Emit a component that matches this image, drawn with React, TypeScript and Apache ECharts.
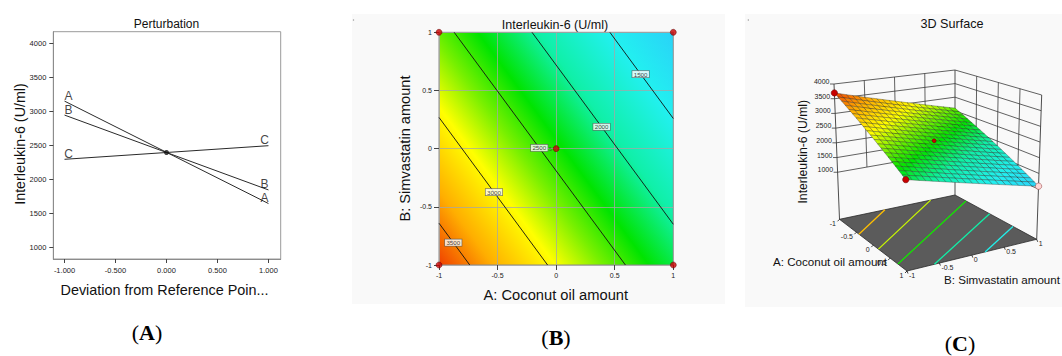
import React, { useEffect, useRef } from "react";
import * as echarts from "echarts";

// ---------- Panel A: perturbation ----------
const DEVIATION = [-1, 1];
const PERT_A = [3150, 1645];
const PERT_B = [2945, 1845];
const PERT_C = [2295, 2495];
const REFERENCE_VALUE = 2395;
const PERT_X_TICKS = [-1, -0.5, 0, 0.5, 1];
const PERT_Y_TICKS = [1000, 1500, 2000, 2500, 3000, 3500, 4000];

// ---------- Panel B: contour plot ----------
const CODED_TICKS = [-1, -0.5, 0, 0.5, 1];
const CONTOUR_LEVELS = [1500, 2000, 2500, 3000, 3500];
const CONTOUR_LABEL_A = [0.721, 0.388, -0.144, -0.531, -0.878];
const DESIGN_POINTS = [[-1, -1], [1, -1], [-1, 1], [1, 1], [0, 0]];
const CENTER_REPLICATES = "5";

// ---------- Panel C: 3D surface ----------
const SURFACE_Z_TICKS = [1000, 1500, 2000, 2500, 3000, 3500, 4000];
const FLOOR_LEVELS = [1530, 1960, 2395, 2830, 3265];
const SURFACE_POINTS = [[-1, -1], [1, -1], [0, 0], [1, 1]];
const SURFACE_POINT_ABOVE = [true, true, true, false];
const MESH_STEPS = 20;

// colour map (response value -> colour)
const COLOR_STOPS_V = [1093, 1500, 1960, 2350, 2650, 2950, 3350, 3697];
const COLOR_STOPS_C = ["#2ad2f8", "#22f0f0", "#10f0a8", "#00e400", "#78f000", "#ffff00", "#ffae00", "#f04000"];

// linear model
const COEF_A = (PERT_A[1] - PERT_A[0]) / 2;
const COEF_B = (PERT_B[1] - PERT_B[0]) / 2;
const response = (a: number, b: number) => REFERENCE_VALUE + COEF_A * a + COEF_B * b;

// 3D box layout (screen positions of the box corners): order (A,B) = (-1,-1),(1,-1),(1,1),(-1,1)
const BOX_FLOOR = [[839.5, 219.3], [907, 271], [1036.7, 239.3], [955, 195]];
const BOX_TOP = [[834, 84], [905, 120.5], [1041.7, 95], [955, 70]];
const Z_FLOOR = -600;
const Z_TOP = 4000;

const FONT = '"Liberation Sans", Arial, Helvetica, sans-serif';
const SERIF = '"Liberation Serif", "Times New Roman", serif';

function project(a: number, b: number, z: number): number[] {
  const u = (a + 1) / 2, v = (b + 1) / 2, w = (z - Z_FLOOR) / (Z_TOP - Z_FLOOR);
  const bil = (q: number[][], k: number) =>
    q[0][k] * (1 - u) * (1 - v) + q[1][k] * u * (1 - v) + q[2][k] * u * v + q[3][k] * (1 - u) * v;
  const f = [bil(BOX_FLOOR, 0), bil(BOX_FLOOR, 1)];
  const t = [bil(BOX_TOP, 0), bil(BOX_TOP, 1)];
  return [f[0] * (1 - w) + t[0] * w, f[1] * (1 - w) + t[1] * w];
}

function hexToRgb(h: string) {
  const n = parseInt(h.slice(1), 16);
  return [(n >> 16) & 255, (n >> 8) & 255, n & 255];
}
function colorAt(v: number) {
  const vs = COLOR_STOPS_V;
  const cs = COLOR_STOPS_C.map(hexToRgb);
  if (v <= vs[0]) return `rgb(${cs[0].join(",")})`;
  if (v >= vs[vs.length - 1]) return `rgb(${cs[cs.length - 1].join(",")})`;
  for (let i = 0; i < vs.length - 1; i++) {
    if (v >= vs[i] && v <= vs[i + 1]) {
      const t = (v - vs[i]) / (vs[i + 1] - vs[i]);
      const c = cs[i].map((x, k) => Math.round(x + (cs[i + 1][k] - x) * t));
      return `rgb(${c.join(",")})`;
    }
  }
  return "#000";
}

function contourSegment(level: number): number[][] {
  const pts: number[][] = [];
  for (const a of [-1, 1]) {
    const b = (level - REFERENCE_VALUE - COEF_A * a) / COEF_B;
    if (b >= -1 && b <= 1) pts.push([a, b]);
  }
  for (const b of [-1, 1]) {
    const a = (level - REFERENCE_VALUE - COEF_B * b) / COEF_A;
    if (a >= -1 && a <= 1) pts.push([a, b]);
  }
  return pts.slice(0, 2);
}

const HIDDEN = "rgba(0,0,0,0)";

function buildOption() {
  const factorSeries = [
    { name: "A", vals: PERT_A },
    { name: "B", vals: PERT_B },
    { name: "C", vals: PERT_C },
  ];

  const factorLabels: any[] = [];
  factorSeries.forEach((f) => {
    DEVIATION.forEach((x, i) => {
      factorLabels.push({
        value: [x, f.vals[i]],
        label: {
          show: true,
          formatter: f.name,
          position: "top",
          distance: 0,
          offset: [i === 0 ? 4 : -4, 1],
          fontSize: 12,
          color: "#111",
          fontFamily: FONT,
        },
      });
    });
  });

  const cells: number[][] = [];
  for (let i = 0; i < MESH_STEPS; i++) for (let j = 0; j < MESH_STEPS; j++) cells.push([i, j]);

  const lineStyleC = { stroke: "#3a3a3a", lineWidth: 0.8 };

  const series: any[] = [
    // ---------- Panel A ----------
    ...factorSeries.map((f) => ({
      type: "line",
      name: f.name,
      xAxisIndex: 0,
      yAxisIndex: 0,
      data: DEVIATION.map((x, i) => [x, f.vals[i]]),
      symbol: "none",
      lineStyle: { color: "#2a2a2a", width: 1 },
      silent: true,
      z: 3,
    })),
    {
      type: "scatter",
      xAxisIndex: 0,
      yAxisIndex: 0,
      data: factorLabels,
      symbolSize: 1,
      itemStyle: { color: HIDDEN },
      silent: true,
      clip: false,
      z: 4,
    },
    {
      type: "scatter",
      xAxisIndex: 0,
      yAxisIndex: 0,
      data: [[0, REFERENCE_VALUE]],
      symbolSize: 5,
      itemStyle: { color: "#111" },
      silent: true,
      z: 5,
    },
    // ---------- Panel B ----------
    {
      type: "custom",
      xAxisIndex: 1,
      yAxisIndex: 1,
      data: [[0, 0]],
      silent: true,
      z: 1,
      renderItem: (params: any, api: any) => {
        const c = api.coord([0, 0]);
        const pxPerA = (api.coord([1, 0])[0] - api.coord([-1, 0])[0]) / 2;
        const pyPerB = (api.coord([0, 1])[1] - api.coord([0, -1])[1]) / 2;
        const gx = COEF_A / pxPerA;
        const gy = COEF_B / pyPerB;
        const g2 = gx * gx + gy * gy;
        const at = (v: number) => [c[0] + ((v - REFERENCE_VALUE) / g2) * gx, c[1] + ((v - REFERENCE_VALUE) / g2) * gy];
        const vMin = COLOR_STOPS_V[0];
        const vMax = COLOR_STOPS_V[COLOR_STOPS_V.length - 1];
        const p0 = at(vMin);
        const p1 = at(vMax);
        const stops = COLOR_STOPS_V.map((v, i) => ({ offset: (v - vMin) / (vMax - vMin), color: COLOR_STOPS_C[i] }));
        const pts = [[-1, -1], [1, -1], [1, 1], [-1, 1]].map((p) => api.coord(p));
        return {
          type: "polygon",
          shape: { points: pts },
          style: {
            fill: new echarts.graphic.LinearGradient(p0[0], p0[1], p1[0], p1[1], stops, true),
            stroke: "#8a8a8a",
            lineWidth: 1,
          },
        };
      },
    },
    ...CONTOUR_LEVELS.map((level) => ({
      type: "line",
      xAxisIndex: 1,
      yAxisIndex: 1,
      data: contourSegment(level),
      symbol: "none",
      lineStyle: { color: "#111", width: 0.9 },
      silent: true,
      z: 4,
    })),
    {
      type: "scatter",
      xAxisIndex: 1,
      yAxisIndex: 1,
      data: CONTOUR_LEVELS.map((level, i) => {
        const a = CONTOUR_LABEL_A[i];
        return [a, (level - REFERENCE_VALUE - COEF_A * a) / COEF_B, level];
      }),
      symbolSize: 1,
      itemStyle: { color: HIDDEN },
      label: {
        show: true,
        position: "inside",
        formatter: (p: any) => String(p.value[2]),
        fontSize: 6.2,
        fontFamily: FONT,
        color: "#111",
        backgroundColor: "#fff",
        borderColor: "#555",
        borderWidth: 0.6,
        padding: [0.5, 1.5, 0, 1.5],
      },
      silent: true,
      clip: false,
      z: 5,
    },
    {
      type: "scatter",
      xAxisIndex: 1,
      yAxisIndex: 1,
      data: DESIGN_POINTS.map((p) => ({
        value: p,
        label:
          p[0] === 0 && p[1] === 0
            ? { show: true, formatter: CENTER_REPLICATES, position: "left", distance: 1, fontSize: 5, color: "#333", fontFamily: FONT }
            : { show: false },
      })),
      symbolSize: 6,
      itemStyle: { color: "#c80000", borderColor: "#5a0000", borderWidth: 0.6 },
      silent: true,
      clip: false,
      z: 6,
    },
    // ---------- Panel C ----------
    {
      type: "custom",
      xAxisIndex: 2,
      yAxisIndex: 2,
      data: [[0, 0]],
      silent: true,
      z: 1,
      renderItem: (params: any, api: any) => {
        const P = (a: number, b: number, z: number) => api.coord(project(a, b, z));
        const ch: any[] = [];
        const line = (p: number[], q: number[], w = 0.8) =>
          ch.push({ type: "line", shape: { x1: p[0], y1: p[1], x2: q[0], y2: q[1] }, style: { ...lineStyleC, lineWidth: w } });
        const zLo = SURFACE_Z_TICKS[0];
        const zHi = SURFACE_Z_TICKS[SURFACE_Z_TICKS.length - 1];
        SURFACE_Z_TICKS.forEach((z) => {
          line(P(-1, -1, z), P(-1, 1, z));
          line(P(-1, 1, z), P(1, 1, z));
        });
        [-0.5, 0, 0.5].forEach((t) => {
          line(P(-1, t, zLo), P(-1, t, zHi));
          line(P(t, 1, zLo), P(t, 1, zHi));
        });
        line(P(-1, -1, Z_FLOOR), P(-1, -1, zHi), 0.9);
        line(P(-1, 1, Z_FLOOR), P(-1, 1, zHi), 0.9);
        line(P(1, 1, Z_FLOOR), P(1, 1, zHi), 0.9);
        SURFACE_Z_TICKS.forEach((z) => {
          const p = P(-1, -1, z);
          line([p[0] - 4, p[1]], p, 0.8);
          ch.push({
            type: "text",
            x: p[0] - 4.5,
            y: p[1] - 2.5,
            style: { text: String(z), fontSize: 7, fontFamily: FONT, fill: "#222", align: "right", verticalAlign: "middle" },
          });
        });
        return { type: "group", children: ch };
      },
    },
    {
      type: "custom",
      xAxisIndex: 2,
      yAxisIndex: 2,
      data: [[0, 0]],
      silent: true,
      z: 2,
      renderItem: (params: any, api: any) => {
        const P = (a: number, b: number) => api.coord(project(a, b, Z_FLOOR));
        const ch: any[] = [];
        ch.push({
          type: "polygon",
          shape: { points: [P(-1, -1), P(1, -1), P(1, 1), P(-1, 1)] },
          style: { fill: "#5b5b5b", stroke: "#2a2a2a", lineWidth: 0.8 },
        });
        FLOOR_LEVELS.forEach((level) => {
          const seg = contourSegment(level);
          if (seg.length < 2) return;
          const p = P(seg[0][0], seg[0][1]);
          const q = P(seg[1][0], seg[1][1]);
          ch.push({
            type: "line",
            shape: { x1: p[0], y1: p[1], x2: q[0], y2: q[1] },
            style: { stroke: colorAt(level), lineWidth: 1.3 },
          });
        });
        CODED_TICKS.forEach((t) => {
          const pa = P(t, -1);
          ch.push({ type: "line", shape: { x1: pa[0], y1: pa[1], x2: pa[0] - 2, y2: pa[1] + 2 }, style: { stroke: "#111", lineWidth: 0.8 } });
          ch.push({
            type: "text",
            x: pa[0] - 3.5,
            y: pa[1] + 4.5,
            style: { text: String(t), fontSize: 7, fontFamily: FONT, fill: "#222", align: "right", verticalAlign: "middle" },
          });
          const pb = P(1, t);
          ch.push({ type: "line", shape: { x1: pb[0], y1: pb[1], x2: pb[0] + 1, y2: pb[1] + 2.5 }, style: { stroke: "#111", lineWidth: 0.8 } });
          ch.push({
            type: "text",
            x: pb[0] + 2,
            y: pb[1] + 4,
            style: { text: String(t), fontSize: 7, fontFamily: FONT, fill: "#222", align: "left", verticalAlign: "middle" },
          });
        });
        return { type: "group", children: ch };
      },
    },
    {
      type: "custom",
      xAxisIndex: 2,
      yAxisIndex: 2,
      data: cells,
      silent: true,
      z: 3,
      renderItem: (params: any, api: any) => {
        const i = api.value(0);
        const j = api.value(1);
        const a0 = -1 + (2 * i) / MESH_STEPS;
        const a1 = -1 + (2 * (i + 1)) / MESH_STEPS;
        const b0 = -1 + (2 * j) / MESH_STEPS;
        const b1 = -1 + (2 * (j + 1)) / MESH_STEPS;
        const pts = [[a0, b0], [a1, b0], [a1, b1], [a0, b1]].map(([a, b]) => api.coord(project(a, b, response(a, b))));
        return {
          type: "polygon",
          shape: { points: pts },
          style: { fill: colorAt(response((a0 + a1) / 2, (b0 + b1) / 2)), stroke: "rgba(30,30,30,0.7)", lineWidth: 0.45 },
        };
      },
    },
    {
      type: "custom",
      xAxisIndex: 2,
      yAxisIndex: 2,
      data: SURFACE_POINTS.map((p, i) => [p[0], p[1], SURFACE_POINT_ABOVE[i] ? 1 : 0]),
      silent: true,
      z: 4,
      renderItem: (params: any, api: any) => {
        const a = api.value(0);
        const b = api.value(1);
        const above = api.value(2) === 1;
        const c = api.coord(project(a, b, response(a, b)));
        const isCenter = a === 0 && b === 0;
        return {
          type: "circle",
          shape: { cx: c[0], cy: c[1], r: isCenter ? 2 : 3.2 },
          style: above
            ? { fill: "#c80000", stroke: "#5a0000", lineWidth: 0.5 }
            : { fill: "#ffd6d6", stroke: "#a05050", lineWidth: 0.6 },
        };
      },
    },
  ];

  const text = (x: number, y: number, t: string, size: number, extra: any = {}) => ({
    type: "text",
    x,
    y,
    silent: true,
    ...extra,
    style: { text: t, fontSize: size, fontFamily: FONT, fill: "#111", align: "center", verticalAlign: "middle" },
  });

  const caption = (x: number, y: number, letter: string) => ({
    type: "text",
    x,
    y,
    silent: true,
    style: {
      text: "{p|(}{b|" + letter + "}{p|)}",
      align: "center",
      verticalAlign: "middle",
      rich: {
        p: { fontSize: 22, fontFamily: SERIF, fill: "#000" },
        b: { fontSize: 22, fontFamily: SERIF, fontWeight: "bold", fill: "#000" },
      },
    },
  });

  const graphic: any[] = [
    { type: "rect", z: -10, silent: true, shape: { x: 352, y: 14, width: 373, height: 290 }, style: { fill: "#f9f9f9" } },
    { type: "rect", z: -10, silent: true, shape: { x: 745, y: 14, width: 317, height: 293 }, style: { fill: "#f9f9f9" } },
    { type: "circle", silent: true, shape: { cx: 353.5, cy: 20, r: 0.7 }, style: { fill: "#999" } },
    { type: "circle", silent: true, shape: { cx: 748.3, cy: 20, r: 0.7 }, style: { fill: "#999" } },
    // panel A
    text(166.5, 24, "Perturbation", 12),
    text(20, 144, "Interleukin-6 (U/ml)", 14.3, { rotation: Math.PI / 2 }),
    text(164.5, 290, "Deviation from Reference Poin...", 14.4),
    // panel B
    text(555, 25, "Interleukin-6 (U/ml)", 12.5),
    text(405, 148.5, "B: Simvastatin amount", 14.6, { rotation: Math.PI / 2 }),
    text(555.8, 295, "A: Coconut oil amount", 14.7),
    // panel C
    text(952, 24, "3D Surface", 12.6),
    text(803.3, 151.7, "Interleukin-6 (U/ml)", 12.2, { rotation: Math.PI / 2 }),
    text(830, 261.7, "A: Coconut oil amount", 11.6),
    text(1002, 279.3, "B: Simvastatin amount", 11.6),
    caption(147, 332, "A"),
    caption(556, 337, "B"),
    caption(960, 343.5, "C"),
  ];

  const codedLabel = (v: number) => String(v);

  return {
    animation: false,
    backgroundColor: "#ffffff",
    grid: [
      { left: 53.3, top: 31.7, width: 227.4, height: 227.3, show: true, borderColor: "#9a9a9a", borderWidth: 1, backgroundColor: "transparent" },
      { left: 439, top: 32.3, width: 234.3, height: 232.7, show: false },
      { left: 0, top: 0, width: 1062, height: 356, show: false },
    ],
    xAxis: [
      {
        gridIndex: 0,
        type: "value",
        min: -1.11,
        max: 1.12,
        axisLine: { show: true, onZero: false, lineStyle: { color: "#8c8c8c", width: 1 } },
        axisTick: { show: true, customValues: PERT_X_TICKS, length: 4, lineStyle: { color: "#444" } },
        axisLabel: { customValues: PERT_X_TICKS, formatter: (v: number) => v.toFixed(3), fontSize: 7.5, color: "#222", margin: 7, fontFamily: FONT },
        splitLine: { show: false },
      },
      {
        gridIndex: 1,
        type: "value",
        min: -1,
        max: 1,
        interval: 0.5,
        z: 3,
        axisLine: { show: false, onZero: false },
        axisTick: { show: true, length: 5, lineStyle: { color: "#444" } },
        axisLabel: { formatter: codedLabel, fontSize: 7, color: "#222", margin: 7, fontFamily: FONT },
        splitLine: { show: true, lineStyle: { color: "rgba(165,165,165,0.75)", width: 1 } },
      },
      { gridIndex: 2, type: "value", min: 0, max: 1062, show: false },
    ],
    yAxis: [
      {
        gridIndex: 0,
        type: "value",
        min: 830,
        max: 4170,
        axisLine: { show: true, onZero: false, lineStyle: { color: "#8c8c8c", width: 1 } },
        axisTick: { show: true, customValues: PERT_Y_TICKS, length: 4, lineStyle: { color: "#444" } },
        axisLabel: { customValues: PERT_Y_TICKS, formatter: (v: number) => String(v), fontSize: 7.5, color: "#222", margin: 7, fontFamily: FONT },
        splitLine: { show: false },
      },
      {
        gridIndex: 1,
        type: "value",
        min: -1,
        max: 1,
        interval: 0.5,
        z: 3,
        axisLine: { show: false, onZero: false },
        axisTick: { show: true, length: 5, lineStyle: { color: "#444" } },
        axisLabel: { formatter: codedLabel, fontSize: 7, color: "#222", margin: 7, fontFamily: FONT },
        splitLine: { show: true, lineStyle: { color: "rgba(165,165,165,0.75)", width: 1 } },
      },
      { gridIndex: 2, type: "value", min: 0, max: 356, inverse: true, show: false },
    ],
    series,
    graphic,
  };
}

export default function App() {
  const ref = useRef<HTMLDivElement>(null);
  useEffect(() => {
    if (!ref.current) return;
    const chart = echarts.init(ref.current, undefined, { renderer: "svg" });
    chart.setOption(buildOption() as any);
    return () => chart.dispose();
  }, []);
  return <div ref={ref} style={{ position: "fixed", left: 0, top: 0, width: 1062, height: 356 }} />;
}
